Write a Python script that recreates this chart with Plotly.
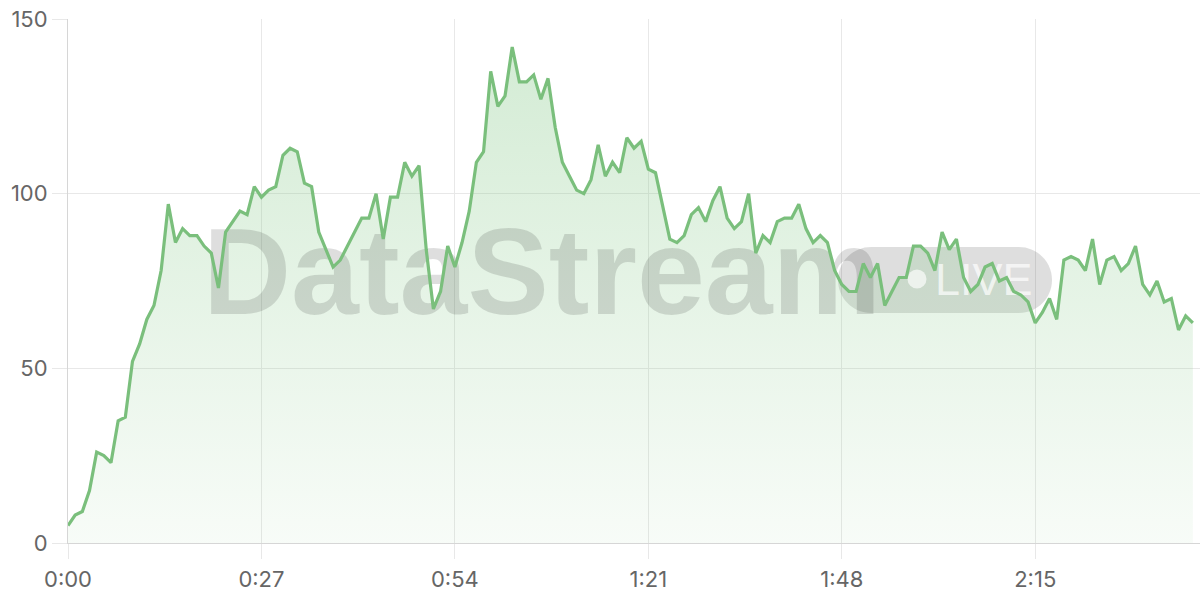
import plotly.graph_objects as go

# ---- data ----
seconds = list(range(158))
values = [5, 8, 9, 15, 26, 25, 23, 35, 36, 52,
          57, 64, 68, 78, 97, 86, 90, 88, 88, 85,
          83, 73, 89, 92, 95, 94, 102, 99, 101, 102,
          111, 113, 112, 103, 102, 89, 84, 79, 81, 85,
          89, 93, 93, 100, 87, 99, 99, 109, 105, 108,
          84, 67, 72, 85, 79, 86, 95, 109, 112, 135,
          125, 128, 142, 132, 132, 134, 127, 133, 119, 109,
          105, 101, 100, 104, 114, 105, 109, 106, 116, 113,
          115, 107, 106, 96, 87, 86, 88, 94, 96, 92,
          98, 102, 93, 90, 92, 100, 83, 88, 86, 92,
          93, 93, 97, 90, 86, 88, 86, 78, 74, 72,
          72, 80, 76, 80, 68, 72, 76, 76, 85, 85,
          83, 78, 89, 84, 87, 76, 72, 74, 79, 80,
          75, 76, 72, 71, 69, 63, 66, 70, 64, 81,
          82, 81, 78, 87, 74, 81, 82, 78, 80, 85,
          74, 71, 75, 69, 70, 61, 65, 63]
x_tick_vals = [0, 27, 54, 81, 108, 135]
x_tick_text = ["0:00", "0:27", "0:54", "1:21", "1:48", "2:15"]
y_tick_vals = [0, 50, 100, 150]

# ---- layout geometry ----
W, H = 1200, 600
ML, MR, MT, MB = 68, 0, 19, 57
XMAX, YMAX = 158, 150
PW, PH = W - ML - MR, H - MT - MB


def px2x(px):
    return (px - ML) / PW * XMAX


def px2y(py):
    return (H - MB - py) / PH * YMAX


LINE = "rgb(122,191,124)"
GRID = "#e8e8e8"
AXIS = "#d6d6d6"
WM = "rgba(0,0,0,0.13)"

fig = go.Figure()

# filled area (gradient)
fig.add_trace(go.Scatter(
    x=seconds, y=values, mode="lines", line=dict(width=0, color=LINE),
    fill="tozeroy",
    fillgradient=dict(type="vertical", start=0, stop=150,
                      colorscale=[[0, "rgba(129,199,132,0.06)"],
                                  [1, "rgba(129,199,132,0.36)"]]),
    hoverinfo="skip", showlegend=False))

# watermark text
fig.add_trace(go.Scatter(
    x=[px2x(203)], y=[px2y(283)], mode="text", text=["DataStream"],
    textposition="middle right",
    textfont=dict(family="Liberation Sans", size=122, color=WM, weight="bold"),
    hoverinfo="skip", showlegend=False, cliponaxis=False))
fig.add_trace(go.Scatter(
    x=[px2x(917)], y=[px2y(279)], mode="markers",
    marker=dict(size=19, color="rgba(255,255,255,0.65)", line=dict(width=0)),
    hoverinfo="skip", showlegend=False))
fig.add_trace(go.Scatter(
    x=[px2x(935)], y=[px2y(284)], mode="text", text=["LIVE"],
    textposition="middle right",
    textfont=dict(family="Liberation Sans", size=45, color="rgba(255,255,255,0.7)"),
    hoverinfo="skip", showlegend=False, cliponaxis=False))

# main line
fig.add_trace(go.Scatter(
    x=seconds, y=values, mode="lines",
    line=dict(color=LINE, width=3.2, shape="linear"),
    showlegend=False))

# pill behind "LIVE"
k = 0.5523
hw, hh = 107, 33
cx = hw - hh
r = hh
path = (f"M {-cx},{-r} L {cx},{-r} "
        f"C {cx + r * k},{-r} {hw},{-r * k} {hw},0 "
        f"C {hw},{r * k} {cx + r * k},{r} {cx},{r} "
        f"L {-cx},{r} "
        f"C {-cx - r * k},{r} {-hw},{r * k} {-hw},0 "
        f"C {-hw},{-r * k} {-cx - r * k},{-r} {-cx},{-r} Z")
fig.add_shape(type="path", path=path, xref="x", yref="y",
              xsizemode="pixel", ysizemode="pixel",
              xanchor=px2x(945), yanchor=px2y(280),
              fillcolor=WM, line=dict(width=0), layer="between")

TICKFONT = dict(family="Inter", size=22, color="#666666")

fig.update_layout(
    width=W, height=H,
    margin=dict(l=ML, r=MR, t=MT, b=MB, pad=0),
    paper_bgcolor="white", plot_bgcolor="white",
    hovermode=False,
    xaxis=dict(range=[0, XMAX], tickvals=x_tick_vals, ticktext=x_tick_text,
               showgrid=True, gridcolor=GRID, gridwidth=1,
               ticks="outside", ticklen=15, tickcolor=GRID, tickwidth=1,
               ticklabelstandoff=2,
               showline=True, linecolor=AXIS, linewidth=1,
               zeroline=False, tickfont=TICKFONT, fixedrange=True),
    yaxis=dict(range=[0, YMAX], tickvals=y_tick_vals,
               showgrid=True, gridcolor=GRID, gridwidth=1,
               ticks="outside", ticklen=15, tickcolor=GRID, tickwidth=1,
               showline=True, linecolor=AXIS, linewidth=1,
               zeroline=False, tickfont=TICKFONT, fixedrange=True),
)

fig.write_html("out.html",
               config={"displayModeBar": False, "staticPlot": True},
               post_script="document.body.style.margin='0';document.body.style.overflow='hidden';")
